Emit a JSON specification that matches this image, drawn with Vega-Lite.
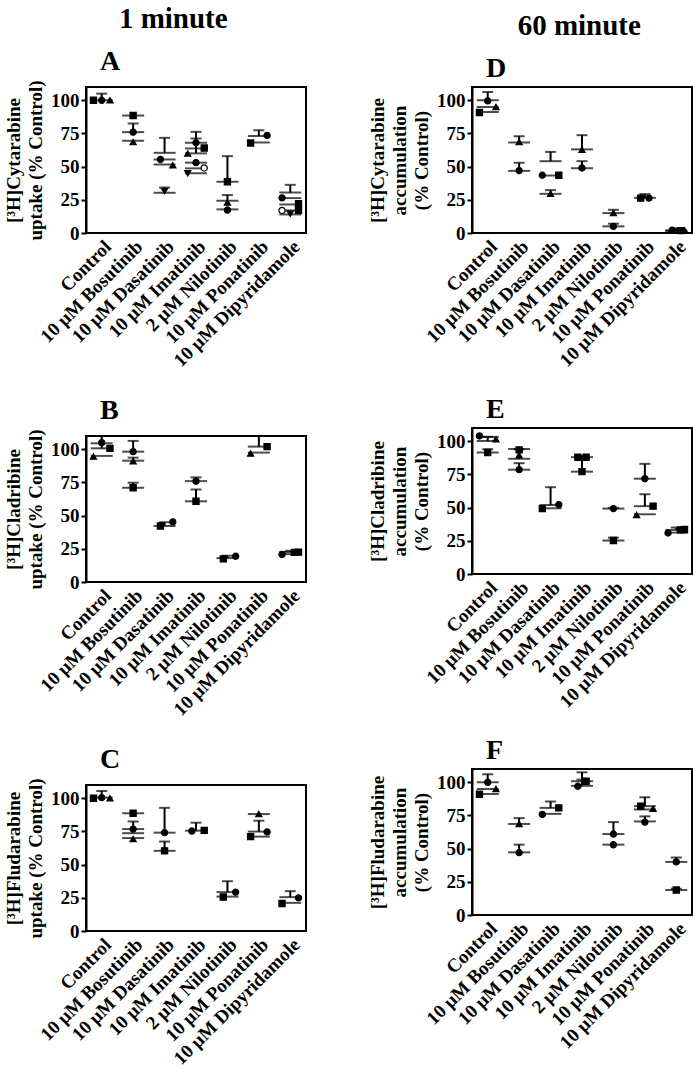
{
  "$schema": "https://vega.github.io/schema/vega-lite/v6.json",
  "background": "white",
  "padding": {"left": 3, "top": 4, "right": 0, "bottom": 0},
  "datasets": {
    "bars": [
      {"p":"A","c":"Control","m":100,"h":105},
      {"p":"A","c":"10 μM Bosutinib","m":88.5},
      {"p":"A","c":"10 μM Bosutinib","m":76,"h":82.5},
      {"p":"A","c":"10 μM Bosutinib","m":69.5},
      {"p":"A","c":"10 μM Dasatinib","m":60.4,"h":71.7},
      {"p":"A","c":"10 μM Dasatinib","m":55.4},
      {"p":"A","c":"10 μM Dasatinib","m":51.6},
      {"p":"A","c":"10 μM Dasatinib","m":30.3,"h":34.3},
      {"p":"A","c":"10 μM Imatinib","m":68,"h":76.2},
      {"p":"A","c":"10 μM Imatinib","m":63.7},
      {"p":"A","c":"10 μM Imatinib","m":60,"h":71.2},
      {"p":"A","c":"10 μM Imatinib","m":53},
      {"p":"A","c":"10 μM Imatinib","m":48.7},
      {"p":"A","c":"10 μM Imatinib","m":45},
      {"p":"A","c":"2 μM Nilotinib","m":38.6,"h":57.9},
      {"p":"A","c":"2 μM Nilotinib","m":24.3,"h":28.6},
      {"p":"A","c":"2 μM Nilotinib","m":17.8},
      {"p":"A","c":"10 μM Ponatinib","m":73.1,"h":77.4},
      {"p":"A","c":"10 μM Ponatinib","m":68.2},
      {"p":"A","c":"10 μM Dipyridamole","m":30.5,"h":36.3},
      {"p":"A","c":"10 μM Dipyridamole","m":26.3},
      {"p":"A","c":"10 μM Dipyridamole","m":21.5},
      {"p":"A","c":"10 μM Dipyridamole","m":17},
      {"p":"A","c":"10 μM Dipyridamole","m":14},

      {"p":"B","c":"Control","m":104.5},
      {"p":"B","c":"Control","m":100.7,"h":115},
      {"p":"B","c":"Control","m":95},
      {"p":"B","c":"10 μM Bosutinib","m":98.2,"h":106.3},
      {"p":"B","c":"10 μM Bosutinib","m":91.4,"h":93.7},
      {"p":"B","c":"10 μM Bosutinib","m":71,"h":74.8},
      {"p":"B","c":"10 μM Dasatinib","m":42.2,"h":45},
      {"p":"B","c":"10 μM Imatinib","m":76,"h":78.8},
      {"p":"B","c":"10 μM Imatinib","m":60.8,"h":69.7},
      {"p":"B","c":"2 μM Nilotinib","m":18,"h":19.8},
      {"p":"B","c":"10 μM Ponatinib","m":102,"h":115},
      {"p":"B","c":"10 μM Ponatinib","m":97.5},
      {"p":"B","c":"10 μM Dipyridamole","m":22.6,"h":23.5},
      {"p":"B","c":"10 μM Dipyridamole","m":21},

      {"p":"C","c":"Control","m":100.5,"h":105.5},
      {"p":"C","c":"10 μM Bosutinib","m":88.7},
      {"p":"C","c":"10 μM Bosutinib","m":76.8,"h":82.5},
      {"p":"C","c":"10 μM Bosutinib","m":73.7},
      {"p":"C","c":"10 μM Bosutinib","m":70},
      {"p":"C","c":"10 μM Dasatinib","m":74.1,"h":92.8},
      {"p":"C","c":"10 μM Dasatinib","m":60.4,"h":67.4},
      {"p":"C","c":"10 μM Imatinib","m":75.6,"h":81.6},
      {"p":"C","c":"2 μM Nilotinib","m":29.3,"h":37.5},
      {"p":"C","c":"2 μM Nilotinib","m":25.9},
      {"p":"C","c":"10 μM Ponatinib","m":88.1},
      {"p":"C","c":"10 μM Ponatinib","m":74.9,"h":83.1},
      {"p":"C","c":"10 μM Ponatinib","m":71.1},
      {"p":"C","c":"10 μM Dipyridamole","m":25.5,"h":30},
      {"p":"C","c":"10 μM Dipyridamole","m":21.2},

      {"p":"D","c":"Control","m":100,"h":106.2},
      {"p":"D","c":"Control","m":95},
      {"p":"D","c":"Control","m":91.2},
      {"p":"D","c":"10 μM Bosutinib","m":68.2,"h":72.9},
      {"p":"D","c":"10 μM Bosutinib","m":46.8,"h":52.9},
      {"p":"D","c":"10 μM Dasatinib","m":54.1,"h":61.1},
      {"p":"D","c":"10 μM Dasatinib","m":43.3},
      {"p":"D","c":"10 μM Dasatinib","m":29.5,"h":32.3},
      {"p":"D","c":"10 μM Imatinib","m":63,"h":73.7},
      {"p":"D","c":"10 μM Imatinib","m":48.8,"h":54.1},
      {"p":"D","c":"2 μM Nilotinib","m":15,"h":17.5},
      {"p":"D","c":"2 μM Nilotinib","m":5,"h":7},
      {"p":"D","c":"10 μM Ponatinib","m":26.5,"h":29.3},
      {"p":"D","c":"10 μM Dipyridamole","m":2,"h":3.5},
      {"p":"D","c":"10 μM Dipyridamole","m":1.5},

      {"p":"E","c":"Control","m":103.2},
      {"p":"E","c":"Control","m":100.2,"h":103.5},
      {"p":"E","c":"Control","m":91.5,"h":94},
      {"p":"E","c":"10 μM Bosutinib","m":94.2},
      {"p":"E","c":"10 μM Bosutinib","m":86.8,"h":94},
      {"p":"E","c":"10 μM Bosutinib","m":78.6,"h":83.5},
      {"p":"E","c":"10 μM Dasatinib","m":52,"h":65.4},
      {"p":"E","c":"10 μM Dasatinib","m":49.5},
      {"p":"E","c":"10 μM Imatinib","m":88,"h":89},
      {"p":"E","c":"10 μM Imatinib","m":77.1,"h":88},
      {"p":"E","c":"2 μM Nilotinib","m":49.3,"h":49.8},
      {"p":"E","c":"2 μM Nilotinib","m":25.2,"h":27.4},
      {"p":"E","c":"10 μM Ponatinib","m":71.8,"h":83},
      {"p":"E","c":"10 μM Ponatinib","m":51.1,"h":60.1},
      {"p":"E","c":"10 μM Ponatinib","m":45},
      {"p":"E","c":"10 μM Dipyridamole","m":33.2,"h":35},
      {"p":"E","c":"10 μM Dipyridamole","m":31.2},

      {"p":"F","c":"Control","m":100,"h":106},
      {"p":"F","c":"Control","m":95},
      {"p":"F","c":"Control","m":91.2},
      {"p":"F","c":"10 μM Bosutinib","m":68.6,"h":73},
      {"p":"F","c":"10 μM Bosutinib","m":47.2,"h":53},
      {"p":"F","c":"10 μM Dasatinib","m":80.7,"h":85.5},
      {"p":"F","c":"10 μM Dasatinib","m":76.2},
      {"p":"F","c":"10 μM Imatinib","m":100.8,"h":107.5},
      {"p":"F","c":"10 μM Imatinib","m":97.3,"h":102},
      {"p":"F","c":"2 μM Nilotinib","m":61,"h":70},
      {"p":"F","c":"2 μM Nilotinib","m":53},
      {"p":"F","c":"10 μM Ponatinib","m":82,"h":88.7},
      {"p":"F","c":"10 μM Ponatinib","m":79.5},
      {"p":"F","c":"10 μM Ponatinib","m":70.5,"h":74.3},
      {"p":"F","c":"10 μM Dipyridamole","m":40,"h":43.3},
      {"p":"F","c":"10 μM Dipyridamole","m":18.8,"h":19.8}
    ],
    "pts": [
      {"p":"A","c":"Control","k":"sq","s":"a","v":100},
      {"p":"A","c":"Control","k":"ci","s":"c","v":100},
      {"p":"A","c":"Control","k":"tri","s":"e","v":100},
      {"p":"A","c":"10 μM Bosutinib","k":"sq","s":"c","v":88.5},
      {"p":"A","c":"10 μM Bosutinib","k":"ci","s":"c","v":76},
      {"p":"A","c":"10 μM Bosutinib","k":"tri","s":"c","v":68.5},
      {"p":"A","c":"10 μM Dasatinib","k":"ci","s":"b","v":55.4},
      {"p":"A","c":"10 μM Dasatinib","k":"tri","s":"e","v":51},
      {"p":"A","c":"10 μM Dasatinib","k":"inv","s":"c","v":31.5},
      {"p":"A","c":"10 μM Imatinib","k":"ci","s":"c","v":68},
      {"p":"A","c":"10 μM Imatinib","k":"sq","s":"e","v":64},
      {"p":"A","c":"10 μM Imatinib","k":"tri","s":"a","v":60},
      {"p":"A","c":"10 μM Imatinib","k":"ci","s":"c","v":53},
      {"p":"A","c":"10 μM Imatinib","k":"oci","s":"e","v":49},
      {"p":"A","c":"10 μM Imatinib","k":"inv","s":"a","v":45},
      {"p":"A","c":"2 μM Nilotinib","k":"sq","s":"c","v":38.6},
      {"p":"A","c":"2 μM Nilotinib","k":"tri","s":"c","v":23},
      {"p":"A","c":"2 μM Nilotinib","k":"ci","s":"c","v":17.3},
      {"p":"A","c":"10 μM Ponatinib","k":"ci","s":"e","v":73.5},
      {"p":"A","c":"10 μM Ponatinib","k":"sq","s":"a","v":67.8},
      {"p":"A","c":"10 μM Dipyridamole","k":"ci","s":"a","v":26.5},
      {"p":"A","c":"10 μM Dipyridamole","k":"sq","s":"e","v":22},
      {"p":"A","c":"10 μM Dipyridamole","k":"oci","s":"a","v":17},
      {"p":"A","c":"10 μM Dipyridamole","k":"sq","s":"e","v":17},
      {"p":"A","c":"10 μM Dipyridamole","k":"inv","s":"c","v":14.5},

      {"p":"B","c":"Control","k":"ci","s":"c","v":105},
      {"p":"B","c":"Control","k":"sq","s":"e","v":100.7},
      {"p":"B","c":"Control","k":"tri","s":"a","v":94.5},
      {"p":"B","c":"10 μM Bosutinib","k":"ci","s":"c","v":98.2},
      {"p":"B","c":"10 μM Bosutinib","k":"tri","s":"c","v":91},
      {"p":"B","c":"10 μM Bosutinib","k":"sq","s":"c","v":71},
      {"p":"B","c":"10 μM Dasatinib","k":"sq","s":"b","v":42.2},
      {"p":"B","c":"10 μM Dasatinib","k":"ci","s":"e","v":45.3},
      {"p":"B","c":"10 μM Imatinib","k":"ci","s":"c","v":76},
      {"p":"B","c":"10 μM Imatinib","k":"sq","s":"c","v":60.8},
      {"p":"B","c":"2 μM Nilotinib","k":"sq","s":"b","v":17.4},
      {"p":"B","c":"2 μM Nilotinib","k":"ci","s":"e","v":19.4},
      {"p":"B","c":"10 μM Ponatinib","k":"sq","s":"e","v":102},
      {"p":"B","c":"10 μM Ponatinib","k":"tri","s":"a","v":96.8},
      {"p":"B","c":"10 μM Dipyridamole","k":"ci","s":"a","v":20.8},
      {"p":"B","c":"10 μM Dipyridamole","k":"sq","s":"d","v":22.3},
      {"p":"B","c":"10 μM Dipyridamole","k":"sq","s":"e","v":22.5},

      {"p":"C","c":"Control","k":"sq","s":"a","v":100},
      {"p":"C","c":"Control","k":"ci","s":"c","v":100.5},
      {"p":"C","c":"Control","k":"tri","s":"e","v":100},
      {"p":"C","c":"10 μM Bosutinib","k":"sq","s":"c","v":88.7},
      {"p":"C","c":"10 μM Bosutinib","k":"ci","s":"c","v":76.8},
      {"p":"C","c":"10 μM Bosutinib","k":"tri","s":"c","v":69.3},
      {"p":"C","c":"10 μM Dasatinib","k":"ci","s":"c","v":74.1},
      {"p":"C","c":"10 μM Dasatinib","k":"sq","s":"c","v":60.4},
      {"p":"C","c":"10 μM Imatinib","k":"ci","s":"b","v":75.3},
      {"p":"C","c":"10 μM Imatinib","k":"sq","s":"e","v":75.8},
      {"p":"C","c":"2 μM Nilotinib","k":"ci","s":"e","v":29.3},
      {"p":"C","c":"2 μM Nilotinib","k":"sq","s":"b","v":25.6},
      {"p":"C","c":"10 μM Ponatinib","k":"tri","s":"c","v":88.1},
      {"p":"C","c":"10 μM Ponatinib","k":"ci","s":"e","v":74.6},
      {"p":"C","c":"10 μM Ponatinib","k":"sq","s":"a","v":71.1},
      {"p":"C","c":"10 μM Dipyridamole","k":"ci","s":"e","v":25},
      {"p":"C","c":"10 μM Dipyridamole","k":"sq","s":"a","v":20.7},

      {"p":"D","c":"Control","k":"ci","s":"c","v":99.5},
      {"p":"D","c":"Control","k":"tri","s":"e","v":95},
      {"p":"D","c":"Control","k":"sq","s":"a","v":90.8},
      {"p":"D","c":"10 μM Bosutinib","k":"tri","s":"c","v":68.5},
      {"p":"D","c":"10 μM Bosutinib","k":"ci","s":"c","v":47},
      {"p":"D","c":"10 μM Dasatinib","k":"ci","s":"a","v":43.5},
      {"p":"D","c":"10 μM Dasatinib","k":"sq","s":"e","v":43.5},
      {"p":"D","c":"10 μM Dasatinib","k":"tri","s":"c","v":29.5},
      {"p":"D","c":"10 μM Imatinib","k":"tri","s":"c","v":62.7},
      {"p":"D","c":"10 μM Imatinib","k":"ci","s":"c","v":49},
      {"p":"D","c":"2 μM Nilotinib","k":"tri","s":"c","v":15},
      {"p":"D","c":"2 μM Nilotinib","k":"ci","s":"c","v":5},
      {"p":"D","c":"10 μM Ponatinib","k":"sq","s":"b","v":26.3},
      {"p":"D","c":"10 μM Ponatinib","k":"ci","s":"d","v":26.3},
      {"p":"D","c":"10 μM Dipyridamole","k":"ci","s":"b","v":2.2},
      {"p":"D","c":"10 μM Dipyridamole","k":"sq","s":"d","v":1.8},
      {"p":"D","c":"10 μM Dipyridamole","k":"tri","s":"e","v":2},

      {"p":"E","c":"Control","k":"ci","s":"a","v":104},
      {"p":"E","c":"Control","k":"tri","s":"e","v":101.5},
      {"p":"E","c":"Control","k":"sq","s":"c","v":91.5},
      {"p":"E","c":"10 μM Bosutinib","k":"sq","s":"c","v":93.5},
      {"p":"E","c":"10 μM Bosutinib","k":"tri","s":"c","v":89.5},
      {"p":"E","c":"10 μM Bosutinib","k":"ci","s":"c","v":78.6},
      {"p":"E","c":"10 μM Dasatinib","k":"sq","s":"a","v":49.3},
      {"p":"E","c":"10 μM Dasatinib","k":"ci","s":"e","v":52.3},
      {"p":"E","c":"10 μM Imatinib","k":"sq","s":"b","v":88},
      {"p":"E","c":"10 μM Imatinib","k":"sq","s":"d","v":88},
      {"p":"E","c":"10 μM Imatinib","k":"sq","s":"c","v":77.1},
      {"p":"E","c":"2 μM Nilotinib","k":"ci","s":"c","v":49.3},
      {"p":"E","c":"2 μM Nilotinib","k":"sq","s":"c","v":25.2},
      {"p":"E","c":"10 μM Ponatinib","k":"ci","s":"c","v":71.8},
      {"p":"E","c":"10 μM Ponatinib","k":"sq","s":"e","v":51.1},
      {"p":"E","c":"10 μM Ponatinib","k":"tri","s":"a","v":44.5},
      {"p":"E","c":"10 μM Dipyridamole","k":"ci","s":"a","v":30.9},
      {"p":"E","c":"10 μM Dipyridamole","k":"sq","s":"d","v":33.2},
      {"p":"E","c":"10 μM Dipyridamole","k":"sq","s":"e","v":33.5},

      {"p":"F","c":"Control","k":"ci","s":"c","v":100},
      {"p":"F","c":"Control","k":"tri","s":"e","v":95},
      {"p":"F","c":"Control","k":"sq","s":"a","v":91},
      {"p":"F","c":"10 μM Bosutinib","k":"tri","s":"c","v":68.6},
      {"p":"F","c":"10 μM Bosutinib","k":"ci","s":"c","v":47},
      {"p":"F","c":"10 μM Dasatinib","k":"sq","s":"e","v":80.7},
      {"p":"F","c":"10 μM Dasatinib","k":"ci","s":"a","v":75.8},
      {"p":"F","c":"10 μM Imatinib","k":"sq","s":"d","v":100.8},
      {"p":"F","c":"10 μM Imatinib","k":"ci","s":"b","v":97},
      {"p":"F","c":"2 μM Nilotinib","k":"ci","s":"c","v":61},
      {"p":"F","c":"2 μM Nilotinib","k":"ci","s":"c","v":52.9},
      {"p":"F","c":"10 μM Ponatinib","k":"sq","s":"b","v":82},
      {"p":"F","c":"10 μM Ponatinib","k":"tri","s":"e","v":80},
      {"p":"F","c":"10 μM Ponatinib","k":"ci","s":"c","v":70},
      {"p":"F","c":"10 μM Dipyridamole","k":"ci","s":"c","v":40},
      {"p":"F","c":"10 μM Dipyridamole","k":"sq","s":"c","v":18.8}
    ]
  },
  "hconcat": [
    {
      "title": {"text": "1 minute", "fontSize": 29, "offset": 13, "anchor": "middle", "dx": 18, "frame": "bounds"},
      "spacing": 24,
      "vconcat": [
        {
          "title": {"text": "A"},
          "width": 220, "height": 146,
          "encoding": {"x": {"field": "c", "type": "nominal", "title": null, "scale": {"domain": ["Control","10 μM Bosutinib","10 μM Dasatinib","10 μM Imatinib","2 μM Nilotinib","10 μM Ponatinib","10 μM Dipyridamole"], "paddingInner": 0, "paddingOuter": 0}}},
          "layer": [
            {"data": {"name": "bars"}, "transform": [{"filter": "datum.p == 'A' && isValid(datum.h)"}], "mark": {"type": "rule", "clip": true}, "encoding": {"y": {"field": "m", "type": "quantitative", "scale": {"domain": [0, 110], "nice": false}, "axis": {"values": [0, 25, 50, 75, 100], "title": ["[³H]Cytarabine", "uptake (% Control)"]}}, "y2": {"field": "h"}}},
            {"data": {"name": "bars"}, "transform": [{"filter": "datum.p == 'A'"}], "mark": {"type": "tick", "size": 22}, "encoding": {"y": {"field": "m", "type": "quantitative", "axis": {"values": [0, 25, 50, 75, 100], "title": ["[³H]Cytarabine", "uptake (% Control)"]}}}},
            {"data": {"name": "bars"}, "transform": [{"filter": "datum.p == 'A' && isValid(datum.h) && datum.h <= 110"}], "mark": {"type": "tick", "size": 11}, "encoding": {"y": {"field": "h", "type": "quantitative", "axis": {"values": [0, 25, 50, 75, 100], "title": ["[³H]Cytarabine", "uptake (% Control)"]}}}},
            {"data": {"name": "pts"}, "transform": [{"filter": "datum.p == 'A'"}], "mark": {"type": "point", "filled": true, "stroke": "black", "strokeWidth": 1.2, "size": 38, "opacity": 1}, "encoding": {"y": {"field": "v", "type": "quantitative", "axis": {"values": [0, 25, 50, 75, 100], "title": ["[³H]Cytarabine", "uptake (% Control)"]}}, "xOffset": {"field": "s", "type": "nominal", "scale": {"domain": ["a","b","c","d","e"], "paddingInner": 0, "paddingOuter": 0, "range": [7.45, 23.95]}}, "shape": {"field": "k", "type": "nominal", "scale": {"domain": ["sq","ci","tri","inv","oci"], "range": ["square","circle","triangle-up","triangle-down","circle"]}, "legend": null}, "fill": {"field": "k", "type": "nominal", "scale": {"domain": ["sq","ci","tri","inv","oci"], "range": ["black","black","black","black","white"]}, "legend": null}}}
          ]
        },
        {
          "title": {"text": "B"},
          "width": 220, "height": 146,
          "encoding": {"x": {"field": "c", "type": "nominal", "title": null, "scale": {"domain": ["Control","10 μM Bosutinib","10 μM Dasatinib","10 μM Imatinib","2 μM Nilotinib","10 μM Ponatinib","10 μM Dipyridamole"], "paddingInner": 0, "paddingOuter": 0}}},
          "layer": [
            {"data": {"name": "bars"}, "transform": [{"filter": "datum.p == 'B' && isValid(datum.h)"}], "mark": {"type": "rule", "clip": true}, "encoding": {"y": {"field": "m", "type": "quantitative", "scale": {"domain": [0, 110], "nice": false}, "axis": {"values": [0, 25, 50, 75, 100], "title": ["[³H]Cladribine", "uptake (% Control)"]}}, "y2": {"field": "h"}}},
            {"data": {"name": "bars"}, "transform": [{"filter": "datum.p == 'B'"}], "mark": {"type": "tick", "size": 22}, "encoding": {"y": {"field": "m", "type": "quantitative", "axis": {"values": [0, 25, 50, 75, 100], "title": ["[³H]Cladribine", "uptake (% Control)"]}}}},
            {"data": {"name": "bars"}, "transform": [{"filter": "datum.p == 'B' && isValid(datum.h) && datum.h <= 110"}], "mark": {"type": "tick", "size": 11}, "encoding": {"y": {"field": "h", "type": "quantitative", "axis": {"values": [0, 25, 50, 75, 100], "title": ["[³H]Cladribine", "uptake (% Control)"]}}}},
            {"data": {"name": "pts"}, "transform": [{"filter": "datum.p == 'B'"}], "mark": {"type": "point", "filled": true, "stroke": "black", "strokeWidth": 1.2, "size": 38, "opacity": 1}, "encoding": {"y": {"field": "v", "type": "quantitative", "axis": {"values": [0, 25, 50, 75, 100], "title": ["[³H]Cladribine", "uptake (% Control)"]}}, "xOffset": {"field": "s", "type": "nominal", "scale": {"domain": ["a","b","c","d","e"], "paddingInner": 0, "paddingOuter": 0, "range": [7.45, 23.95]}}, "shape": {"field": "k", "type": "nominal", "scale": {"domain": ["sq","ci","tri","inv","oci"], "range": ["square","circle","triangle-up","triangle-down","circle"]}, "legend": null}, "fill": {"field": "k", "type": "nominal", "scale": {"domain": ["sq","ci","tri","inv","oci"], "range": ["black","black","black","black","white"]}, "legend": null}}}
          ]
        },
        {
          "title": {"text": "C"},
          "width": 220, "height": 146,
          "encoding": {"x": {"field": "c", "type": "nominal", "title": null, "scale": {"domain": ["Control","10 μM Bosutinib","10 μM Dasatinib","10 μM Imatinib","2 μM Nilotinib","10 μM Ponatinib","10 μM Dipyridamole"], "paddingInner": 0, "paddingOuter": 0}}},
          "layer": [
            {"data": {"name": "bars"}, "transform": [{"filter": "datum.p == 'C' && isValid(datum.h)"}], "mark": {"type": "rule", "clip": true}, "encoding": {"y": {"field": "m", "type": "quantitative", "scale": {"domain": [0, 110], "nice": false}, "axis": {"values": [0, 25, 50, 75, 100], "title": ["[³H]Fludarabine", "uptake (% Control)"]}}, "y2": {"field": "h"}}},
            {"data": {"name": "bars"}, "transform": [{"filter": "datum.p == 'C'"}], "mark": {"type": "tick", "size": 22}, "encoding": {"y": {"field": "m", "type": "quantitative", "axis": {"values": [0, 25, 50, 75, 100], "title": ["[³H]Fludarabine", "uptake (% Control)"]}}}},
            {"data": {"name": "bars"}, "transform": [{"filter": "datum.p == 'C' && isValid(datum.h) && datum.h <= 110"}], "mark": {"type": "tick", "size": 11}, "encoding": {"y": {"field": "h", "type": "quantitative", "axis": {"values": [0, 25, 50, 75, 100], "title": ["[³H]Fludarabine", "uptake (% Control)"]}}}},
            {"data": {"name": "pts"}, "transform": [{"filter": "datum.p == 'C'"}], "mark": {"type": "point", "filled": true, "stroke": "black", "strokeWidth": 1.2, "size": 38, "opacity": 1}, "encoding": {"y": {"field": "v", "type": "quantitative", "axis": {"values": [0, 25, 50, 75, 100], "title": ["[³H]Fludarabine", "uptake (% Control)"]}}, "xOffset": {"field": "s", "type": "nominal", "scale": {"domain": ["a","b","c","d","e"], "paddingInner": 0, "paddingOuter": 0, "range": [7.45, 23.95]}}, "shape": {"field": "k", "type": "nominal", "scale": {"domain": ["sq","ci","tri","inv","oci"], "range": ["square","circle","triangle-up","triangle-down","circle"]}, "legend": null}, "fill": {"field": "k", "type": "nominal", "scale": {"domain": ["sq","ci","tri","inv","oci"], "range": ["black","black","black","black","white"]}, "legend": null}}}
          ]
        }
      ]
    },
    {
      "title": {"text": "60 minute", "fontSize": 29, "offset": 13, "anchor": "middle", "dx": 49, "frame": "bounds"},
      "spacing": 24,
      "vconcat": [
        {
          "title": {"text": "D"},
          "width": 220, "height": 146,
          "encoding": {"x": {"field": "c", "type": "nominal", "title": null, "scale": {"domain": ["Control","10 μM Bosutinib","10 μM Dasatinib","10 μM Imatinib","2 μM Nilotinib","10 μM Ponatinib","10 μM Dipyridamole"], "paddingInner": 0, "paddingOuter": 0}}},
          "layer": [
            {"data": {"name": "bars"}, "transform": [{"filter": "datum.p == 'D' && isValid(datum.h)"}], "mark": {"type": "rule", "clip": true}, "encoding": {"y": {"field": "m", "type": "quantitative", "scale": {"domain": [0, 110], "nice": false}, "axis": {"values": [0, 25, 50, 75, 100], "title": ["[³H]Cytarabine", "accumulation", "(% Control)"]}}, "y2": {"field": "h"}}},
            {"data": {"name": "bars"}, "transform": [{"filter": "datum.p == 'D'"}], "mark": {"type": "tick", "size": 22}, "encoding": {"y": {"field": "m", "type": "quantitative", "axis": {"values": [0, 25, 50, 75, 100], "title": ["[³H]Cytarabine", "accumulation", "(% Control)"]}}}},
            {"data": {"name": "bars"}, "transform": [{"filter": "datum.p == 'D' && isValid(datum.h) && datum.h <= 110"}], "mark": {"type": "tick", "size": 11}, "encoding": {"y": {"field": "h", "type": "quantitative", "axis": {"values": [0, 25, 50, 75, 100], "title": ["[³H]Cytarabine", "accumulation", "(% Control)"]}}}},
            {"data": {"name": "pts"}, "transform": [{"filter": "datum.p == 'D'"}], "mark": {"type": "point", "filled": true, "stroke": "black", "strokeWidth": 1.2, "size": 38, "opacity": 1}, "encoding": {"y": {"field": "v", "type": "quantitative", "axis": {"values": [0, 25, 50, 75, 100], "title": ["[³H]Cytarabine", "accumulation", "(% Control)"]}}, "xOffset": {"field": "s", "type": "nominal", "scale": {"domain": ["a","b","c","d","e"], "paddingInner": 0, "paddingOuter": 0, "range": [7.45, 23.95]}}, "shape": {"field": "k", "type": "nominal", "scale": {"domain": ["sq","ci","tri","inv","oci"], "range": ["square","circle","triangle-up","triangle-down","circle"]}, "legend": null}, "fill": {"field": "k", "type": "nominal", "scale": {"domain": ["sq","ci","tri","inv","oci"], "range": ["black","black","black","black","white"]}, "legend": null}}}
          ]
        },
        {
          "title": {"text": "E"},
          "width": 220, "height": 146,
          "encoding": {"x": {"field": "c", "type": "nominal", "title": null, "scale": {"domain": ["Control","10 μM Bosutinib","10 μM Dasatinib","10 μM Imatinib","2 μM Nilotinib","10 μM Ponatinib","10 μM Dipyridamole"], "paddingInner": 0, "paddingOuter": 0}}},
          "layer": [
            {"data": {"name": "bars"}, "transform": [{"filter": "datum.p == 'E' && isValid(datum.h)"}], "mark": {"type": "rule", "clip": true}, "encoding": {"y": {"field": "m", "type": "quantitative", "scale": {"domain": [0, 110], "nice": false}, "axis": {"values": [0, 25, 50, 75, 100], "title": ["[³H]Cladribine", "accumulation", "(% Control)"]}}, "y2": {"field": "h"}}},
            {"data": {"name": "bars"}, "transform": [{"filter": "datum.p == 'E'"}], "mark": {"type": "tick", "size": 22}, "encoding": {"y": {"field": "m", "type": "quantitative", "axis": {"values": [0, 25, 50, 75, 100], "title": ["[³H]Cladribine", "accumulation", "(% Control)"]}}}},
            {"data": {"name": "bars"}, "transform": [{"filter": "datum.p == 'E' && isValid(datum.h) && datum.h <= 110"}], "mark": {"type": "tick", "size": 11}, "encoding": {"y": {"field": "h", "type": "quantitative", "axis": {"values": [0, 25, 50, 75, 100], "title": ["[³H]Cladribine", "accumulation", "(% Control)"]}}}},
            {"data": {"name": "pts"}, "transform": [{"filter": "datum.p == 'E'"}], "mark": {"type": "point", "filled": true, "stroke": "black", "strokeWidth": 1.2, "size": 38, "opacity": 1}, "encoding": {"y": {"field": "v", "type": "quantitative", "axis": {"values": [0, 25, 50, 75, 100], "title": ["[³H]Cladribine", "accumulation", "(% Control)"]}}, "xOffset": {"field": "s", "type": "nominal", "scale": {"domain": ["a","b","c","d","e"], "paddingInner": 0, "paddingOuter": 0, "range": [7.45, 23.95]}}, "shape": {"field": "k", "type": "nominal", "scale": {"domain": ["sq","ci","tri","inv","oci"], "range": ["square","circle","triangle-up","triangle-down","circle"]}, "legend": null}, "fill": {"field": "k", "type": "nominal", "scale": {"domain": ["sq","ci","tri","inv","oci"], "range": ["black","black","black","black","white"]}, "legend": null}}}
          ]
        },
        {
          "title": {"text": "F"},
          "width": 220, "height": 146,
          "encoding": {"x": {"field": "c", "type": "nominal", "title": null, "scale": {"domain": ["Control","10 μM Bosutinib","10 μM Dasatinib","10 μM Imatinib","2 μM Nilotinib","10 μM Ponatinib","10 μM Dipyridamole"], "paddingInner": 0, "paddingOuter": 0}}},
          "layer": [
            {"data": {"name": "bars"}, "transform": [{"filter": "datum.p == 'F' && isValid(datum.h)"}], "mark": {"type": "rule", "clip": true}, "encoding": {"y": {"field": "m", "type": "quantitative", "scale": {"domain": [0, 110], "nice": false}, "axis": {"values": [0, 25, 50, 75, 100], "title": ["[³H]Fludarabine", "accumulation", "(% Control)"]}}, "y2": {"field": "h"}}},
            {"data": {"name": "bars"}, "transform": [{"filter": "datum.p == 'F'"}], "mark": {"type": "tick", "size": 22}, "encoding": {"y": {"field": "m", "type": "quantitative", "axis": {"values": [0, 25, 50, 75, 100], "title": ["[³H]Fludarabine", "accumulation", "(% Control)"]}}}},
            {"data": {"name": "bars"}, "transform": [{"filter": "datum.p == 'F' && isValid(datum.h) && datum.h <= 110"}], "mark": {"type": "tick", "size": 11}, "encoding": {"y": {"field": "h", "type": "quantitative", "axis": {"values": [0, 25, 50, 75, 100], "title": ["[³H]Fludarabine", "accumulation", "(% Control)"]}}}},
            {"data": {"name": "pts"}, "transform": [{"filter": "datum.p == 'F'"}], "mark": {"type": "point", "filled": true, "stroke": "black", "strokeWidth": 1.2, "size": 38, "opacity": 1}, "encoding": {"y": {"field": "v", "type": "quantitative", "axis": {"values": [0, 25, 50, 75, 100], "title": ["[³H]Fludarabine", "accumulation", "(% Control)"]}}, "xOffset": {"field": "s", "type": "nominal", "scale": {"domain": ["a","b","c","d","e"], "paddingInner": 0, "paddingOuter": 0, "range": [7.45, 23.95]}}, "shape": {"field": "k", "type": "nominal", "scale": {"domain": ["sq","ci","tri","inv","oci"], "range": ["square","circle","triangle-up","triangle-down","circle"]}, "legend": null}, "fill": {"field": "k", "type": "nominal", "scale": {"domain": ["sq","ci","tri","inv","oci"], "range": ["black","black","black","black","white"]}, "legend": null}}}
          ]
        }
      ]
    }
  ],
  "spacing": 60,
  "config": {
    "font": "Liberation Serif",
    "view": {"stroke": "black", "strokeWidth": 2},
    "rule": {"color": "black", "strokeWidth": 2},
    "tick": {"color": "black", "thickness": 2},
    "axis": {"labelFont": "Liberation Serif", "labelFontWeight": "bold", "labelFontSize": 19, "labelColor": "black", "labelOverlap": false, "titleFont": "Liberation Serif", "titleFontWeight": "bold", "titleFontSize": 19, "titleColor": "black", "titleLineHeight": 22, "titlePadding": 5, "domainColor": "black", "domainWidth": 2, "tickColor": "black", "tickWidth": 2, "tickSize": 5, "grid": false, "labelPadding": 2},
    "axisX": {"labelFontSize": 19, "labelAngle": -45, "ticks": false, "domain": false, "labelPadding": 4},
    "title": {"font": "Liberation Serif", "fontWeight": "bold", "color": "black", "fontSize": 28, "anchor": "start", "frame": "group", "dx": 14, "offset": 4}
  }
}
